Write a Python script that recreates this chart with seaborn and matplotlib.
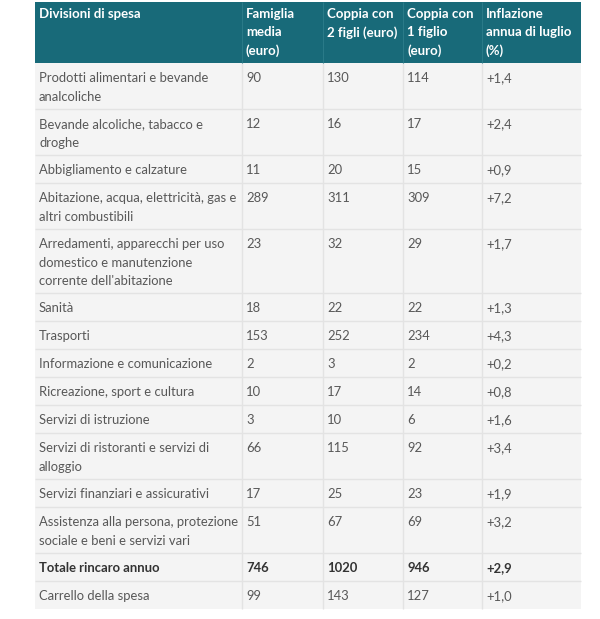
import matplotlib
matplotlib.use("Agg")
import matplotlib.pyplot as plt
from matplotlib.patches import Rectangle
import seaborn as sns

# ---- data ----
headers = ["Divisioni di spesa", "Famiglia\nmedia\n(euro)", "Coppia con\n2 figli (euro)",
           "Coppia con\n1 figlio\n(euro)", "Inflazione\nannua di luglio\n(%)"]
categories = [
    "Prodotti alimentari e bevande\nanalcoliche",
    "Bevande alcoliche, tabacco e\ndroghe",
    "Abbigliamento e calzature",
    "Abitazione, acqua, elettricità, gas e\naltri combustibili",
    "Arredamenti, apparecchi per uso\ndomestico e manutenzione\ncorrente dell'abitazione",
    "Sanità",
    "Trasporti",
    "Informazione e comunicazione",
    "Ricreazione, sport e cultura",
    "Servizi di istruzione",
    "Servizi di ristoranti e servizi di\nalloggio",
    "Servizi finanziari e assicurativi",
    "Assistenza alla persona, protezione\nsociale e beni e servizi vari",
    "Totale rincaro annuo",
    "Carrello della spesa",
]
famiglia_media = [90, 12, 11, 289, 23, 18, 153, 2, 10, 3, 66, 17, 51, 746, 99]
coppia_2_figli = [130, 16, 20, 311, 32, 22, 252, 3, 17, 10, 115, 25, 67, 1020, 143]
coppia_1_figlio = [114, 17, 15, 309, 29, 22, 234, 2, 14, 6, 92, 23, 69, 946, 127]
inflazione = ["+1,4", "+2,4", "+0,9", "+7,2", "+1,7", "+1,3", "+4,3", "+0,2", "+0,8",
              "+1,6", "+3,4", "+1,9", "+3,2", "+2,9", "+1,0"]
bold_rows = ["Totale rincaro annuo"]

# ---- style ----
sns.set_theme(style="white")
plt.rcParams["font.family"] = ["Lato", "DejaVu Sans"]

W, H = 600, 619
fig = plt.figure(figsize=(W / 100, H / 100), dpi=100)
ax = fig.add_axes([0, 0, 1, 1])
ax.set_xlim(0, W)
ax.set_ylim(H, 0)
ax.axis("off")

col_edges = [35, 242, 323, 403, 482, 581]
pad_x = 4
line_h = 18
header_color = "#186a79"
body_bg = "#f4f4f4"
sep_color = "#e3e3e3"
text_color = "#585858"

top = 2
header_h = 61
ax.add_patch(Rectangle((col_edges[0], top), col_edges[-1] - col_edges[0], header_h,
                       facecolor=header_color, edgecolor="none"))
for j, h in enumerate(headers):
    ax.text(col_edges[j] + pad_x, top + 6, h, color="white", fontsize=9.5,
            fontweight="bold", va="top", ha="left", linespacing=1.62)

y = top + header_h
row_tops = []
for i, cat in enumerate(categories):
    n = cat.count("\n") + 1
    rh = 10 + line_h * n
    row_tops.append((y, rh))
    y += rh
table_bottom = y

ax.add_patch(Rectangle((col_edges[0], top + header_h), col_edges[-1] - col_edges[0],
                       table_bottom - top - header_h, facecolor=body_bg, edgecolor="none"))

for i, cat in enumerate(categories):
    y0, rh = row_tops[i]
    if i > 0:
        ax.hlines(y0, col_edges[0], col_edges[-1], color=sep_color, lw=1)
    bold = cat in bold_rows
    fw = "bold" if bold else "normal"
    col = "#333333" if bold else text_color
    vals = [cat, str(famiglia_media[i]), str(coppia_2_figli[i]), str(coppia_1_figlio[i]), inflazione[i]]
    for j, v in enumerate(vals):
        ax.text(col_edges[j] + pad_x, y0 + 9, v, color=col, fontsize=9.4,
                fontweight=fw, va="top", ha="left", linespacing=1.66)

for x in col_edges[1:-1]:
    ax.vlines(x, top + header_h, table_bottom, color=sep_color, lw=1)
for x in col_edges[1:-1]:
    ax.vlines(x, top, top + header_h, color="#2a7a88", lw=0.8)

fig.savefig("out.png", dpi=100)
